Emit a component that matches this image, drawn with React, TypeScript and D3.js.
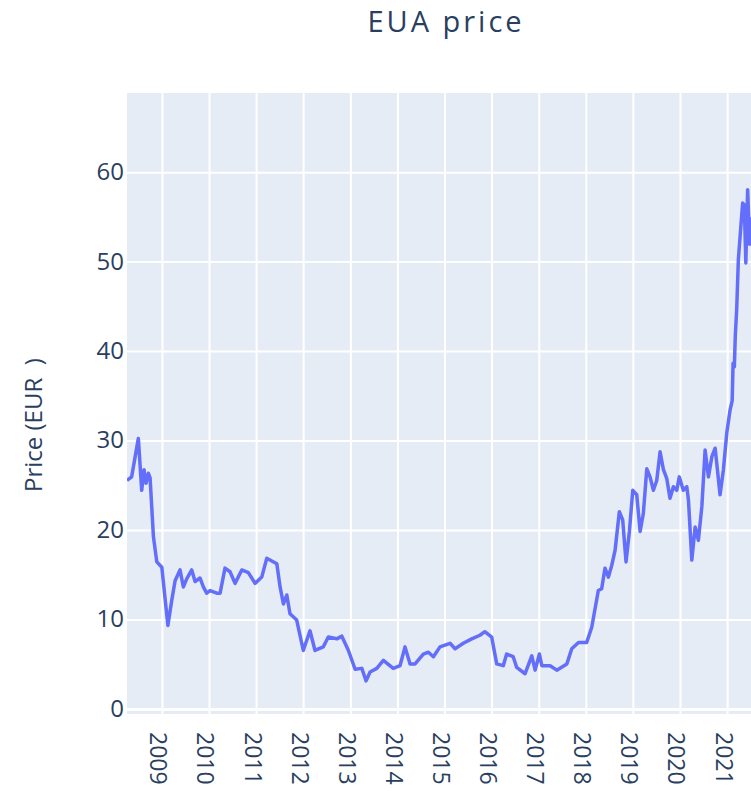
import React, { useEffect, useRef } from "react";
import * as d3 from "d3";

// EUA settlement price
const dates = [
  "2008-04-01", "2008-05-07", "2008-06-28", "2008-07-24", "2008-08-11", "2008-08-27",
  "2008-09-14", "2008-09-27", "2008-10-23", "2008-11-18", "2008-12-27", "2009-02-12",
  "2009-03-14", "2009-04-09", "2009-05-17", "2009-06-12", "2009-07-08", "2009-08-16",
  "2009-09-11", "2009-10-19", "2009-11-14", "2009-12-10", "2010-01-05", "2010-02-26",
  "2010-03-24", "2010-05-01", "2010-06-09", "2010-07-18", "2010-09-08", "2010-10-29",
  "2010-12-20", "2011-02-10", "2011-03-21", "2011-06-07", "2011-07-02", "2011-07-28",
  "2011-08-23", "2011-09-17", "2011-11-08", "2011-12-29", "2012-02-19", "2012-03-29",
  "2012-06-01", "2012-07-10", "2012-09-14", "2012-10-23", "2012-12-13", "2013-02-03",
  "2013-03-27", "2013-04-29", "2013-05-30", "2013-07-21", "2013-09-10", "2013-11-26",
  "2014-01-17", "2014-02-25", "2014-04-05", "2014-05-14", "2014-07-17", "2014-08-25",
  "2014-10-03", "2014-11-23", "2015-02-09", "2015-03-20", "2015-05-23", "2015-07-27",
  "2015-09-29", "2015-11-06", "2015-12-29", "2016-02-06", "2016-03-28", "2016-04-23",
  "2016-06-13", "2016-07-10", "2016-09-13", "2016-11-04", "2016-11-30", "2017-01-02",
  "2017-01-21", "2017-03-26", "2017-05-17", "2017-08-03", "2017-09-10", "2017-11-01",
  "2018-01-04", "2018-02-12", "2018-04-04", "2018-04-30", "2018-05-26", "2018-06-21",
  "2018-07-17", "2018-08-12", "2018-09-14", "2018-10-10", "2018-11-05", "2018-12-01",
  "2018-12-27", "2019-01-27", "2019-02-22", "2019-03-19", "2019-04-15", "2019-05-10",
  "2019-06-05", "2019-07-01", "2019-07-27", "2019-08-22", "2019-09-17", "2019-10-12",
  "2019-11-07", "2019-12-03", "2019-12-23", "2020-01-23", "2020-02-19", "2020-03-03",
  "2020-03-29", "2020-04-24", "2020-05-19", "2020-06-15", "2020-07-10", "2020-08-05",
  "2020-09-01", "2020-09-26", "2020-11-03", "2020-11-29", "2020-12-25", "2021-01-20",
  "2021-02-05", "2021-02-12", "2021-02-22", "2021-03-01", "2021-03-12", "2021-03-25",
  "2021-04-27", "2021-05-10", "2021-05-22", "2021-06-05", "2021-06-20", "2021-07-10",
];
const prices = [
  25.6, 26.0, 30.3, 24.5, 26.8, 25.3,
  26.4, 25.9, 19.3, 16.5, 15.9, 9.4,
  12.2, 14.4, 15.6, 13.7, 14.6, 15.6,
  14.3, 14.7, 13.7, 13.0, 13.3, 13.0,
  13.0, 15.8, 15.4, 14.1, 15.6, 15.3,
  14.1, 14.8, 16.9, 16.3, 13.7, 11.8,
  12.8, 10.7, 10.0, 6.6, 8.8, 6.6,
  7.0, 8.1, 7.9, 8.2, 6.6, 4.5,
  4.6, 3.2, 4.2, 4.6, 5.5, 4.6,
  4.9, 7.0, 5.1, 5.1, 6.2, 6.4,
  5.9, 7.0, 7.4, 6.8, 7.4, 7.9,
  8.3, 8.7, 8.1, 5.1, 4.9, 6.2,
  5.9, 4.7, 4.0, 6.0, 4.4, 6.2,
  4.9, 4.9, 4.4, 5.1, 6.8, 7.5,
  7.5, 9.2, 13.3, 13.5, 15.8, 14.8,
  16.1, 17.8, 22.1, 21.2, 16.5, 19.9,
  24.5, 24.0, 19.9, 21.9, 26.9, 26.0,
  24.5, 25.6, 28.8, 26.8, 25.8, 23.6,
  24.9, 24.5, 26.0, 24.5, 24.9, 23.4,
  16.7, 20.4, 18.9, 22.7, 29.0, 26.0,
  28.3, 29.2, 24.0, 26.8, 30.9, 33.5,
  34.5, 38.7, 38.3, 41.7, 44.7, 50.3,
  56.6, 56.4, 49.9, 58.1, 52.0, 55.0,
];
const yearTicks = [2009, 2010, 2011, 2012, 2013, 2014, 2015, 2016, 2017, 2018, 2019, 2020, 2021, 2022];
const yearLabels = ["2009", "2010", "2011", "2012", "2013", "2014", "2015", "2016", "2017", "2018", "2019", "2020", "2021"];
const priceTicks = [0, 10, 20, 30, 40, 50, 60];

const W = 751;
const H = 791;
const textColor = "#2a3f5f";
const font = "'Open Sans', 'Noto Sans', sans-serif";

export default function App() {
  const svgRef = useRef<SVGSVGElement>(null);

  useEffect(() => {
    const svg = d3.select(svgRef.current);
    svg.selectAll("*").remove();

    const left = 127;
    const top = 93;
    const bottom = 714;
    const right = 780; // the plot runs past the crop

    const x = d3
      .scaleTime()
      .domain([new Date(2008, 3, 1), new Date(2021, 6, 1)])
      .range([left, W]);
    const y = d3.scaleLinear().domain([-0.5, 68.9]).range([bottom, top]);

    svg
      .append("defs")
      .append("clipPath")
      .attr("id", "plot-clip")
      .append("rect")
      .attr("x", left)
      .attr("y", top)
      .attr("width", right - left)
      .attr("height", bottom - top);

    svg
      .append("rect")
      .attr("x", left)
      .attr("y", top)
      .attr("width", right - left)
      .attr("height", bottom - top)
      .attr("fill", "#e5ecf6");

    const grid = svg.append("g").attr("clip-path", "url(#plot-clip)");

    grid
      .selectAll(".vgrid")
      .data(yearTicks)
      .enter()
      .append("line")
      .attr("x1", (d) => x(new Date(d, 0, 1)))
      .attr("x2", (d) => x(new Date(d, 0, 1)))
      .attr("y1", top)
      .attr("y2", bottom)
      .attr("stroke", "#fff")
      .attr("stroke-width", 2);

    grid
      .selectAll(".hgrid")
      .data(priceTicks.filter((d) => d !== 0))
      .enter()
      .append("line")
      .attr("x1", left)
      .attr("x2", right)
      .attr("y1", (d) => y(d))
      .attr("y2", (d) => y(d))
      .attr("stroke", "#fff")
      .attr("stroke-width", 2);

    // zero line
    grid
      .append("line")
      .attr("x1", left)
      .attr("x2", right)
      .attr("y1", y(0))
      .attr("y2", y(0))
      .attr("stroke", "#fff")
      .attr("stroke-width", 3);

    const parse = d3.timeParse("%Y-%m-%d");
    const series = dates.map((d, i) => ({ date: parse(d) as Date, value: prices[i] }));

    const line = d3
      .line<{ date: Date; value: number }>()
      .x((d) => x(d.date))
      .y((d) => y(d.value));

    grid
      .append("path")
      .datum(series)
      .attr("fill", "none")
      .attr("stroke", "#636efa")
      .attr("stroke-width", 3.5)
      .attr("stroke-linejoin", "round")
      .attr("d", line);

    // y tick labels
    svg
      .selectAll(".ytick")
      .data(priceTicks)
      .enter()
      .append("text")
      .attr("x", left - 3)
      .attr("y", (d) => y(d) - 1)
      .attr("dy", "0.35em")
      .attr("text-anchor", "end")
      .style("font-family", font)
      .style("font-size", "24px")
      .style("fill", textColor)
      .text((d) => d);

    // x tick labels, rotated
    svg
      .selectAll(".xtick")
      .data(yearLabels)
      .enter()
      .append("text")
      .attr("transform", (d) => `translate(${x(new Date(+d, 0, 1)) - 4},732) rotate(90)`)
      .attr("dy", "0.35em")
      .attr("text-anchor", "start")
      .style("font-family", font)
      .style("font-size", "23px")
      .style("fill", textColor)
      .text((d) => d);

    svg
      .append("text")
      .attr("x", 446)
      .attr("y", 32)
      .attr("text-anchor", "middle")
      .style("font-family", font)
      .style("font-size", "29px")
      .style("letter-spacing", "3px")
      .style("fill", textColor)
      .text("EUA price");

    svg
      .append("text")
      .attr("transform", "translate(42,492) rotate(-90)")
      .attr("text-anchor", "start")
      .attr("xml:space", "preserve")
      .style("white-space", "pre")
      .style("font-family", font)
      .style("font-size", "24px")
      .style("fill", textColor)
      .text("Price (EUR  )");
  }, []);

  return (
    <svg
      ref={svgRef}
      width={W}
      height={H}
      style={{ position: "absolute", left: 0, top: 0, background: "#fff" }}
    />
  );
}
